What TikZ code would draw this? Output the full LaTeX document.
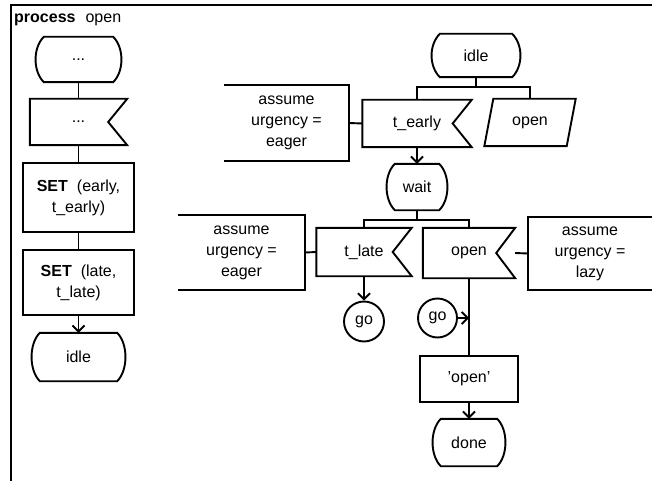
\documentclass[tikz,border=0pt]{standalone}
\usepackage{fontspec}
\setmainfont{Liberation Sans}
\usetikzlibrary{arrows.meta,calc}
\begin{document}
\begin{tikzpicture}[x=1pt,y=-1pt,
  every node/.style={font=\fontsize{16}{21}\selectfont, inner sep=0pt, align=center},
  sz/.style 2 args={minimum width=#1, minimum height=#2},
  ln/.style={line width=1.9pt},
  task/.style={draw, ln},
  gocircle/.style={circle, draw, ln, minimum size=#1},
  arr/.style={ln, -{Straight Barb[length=6pt,width=12pt,line width=1.9pt]}}
]
\useasboundingbox (0,0) rectangle (652,481);
% frame
\draw[line width=2.2pt] (652,5) -- (11,5) -- (11,481);
\node[anchor=base west] (title) at (14,23) {\textbf{process}\hspace{10pt}open};

% left column
\node[sz={69pt}{45pt}] (st1) at (78.5,59.5) {...};
\node[sz={97pt}{46pt}] (in1) at (78.5,122) {...};
\node[task, sz={111pt}{69pt}] (set1) at (78.5,197.5) {\textbf{SET}\hspace{9pt}(early,\\t\_early)};
\node[task, sz={111pt}{65pt}] (set2) at (78.5,282.5) {\textbf{SET}\hspace{9pt}(late,\\t\_late)};
\node[sz={77pt}{48pt}] (idle1) at (78.5,357) {idle};

% right part
\node[sz={72pt}{43pt}] (idle2) at (476,55.5) {idle};
\node[sz={109pt}{47pt}] (te) at (417,123.5) {t\_early};
\node[sz={82pt}{47pt}] (op1) at (530,122.5) {open};
\node[sz={125pt}{76pt}] (c1) at (286.5,123) {assume\\urgency =\\eager};
\node[sz={44pt}{46pt}] (wait) at (417,187) {wait};
\node[sz={95pt}{48pt}] (tl) at (364,252) {t\_late};
\node[sz={92pt}{50pt}] (op2) at (469,253) {open};
\node[sz={127pt}{75pt}] (c2) at (241.5,252.5) {assume\\urgency =\\eager};
\node[sz={124pt}{73pt}] (c3) at (590,253.5) {assume\\urgency =\\lazy};
\node[gocircle=40pt] (go1) at (364,321.5) {go};
\node[gocircle=39pt] (go2) at (437.5,318) {go};
\node[task, sz={98pt}{46pt}] (tk) at (469,379) {'open'};
\node[sz={56pt}{47pt}] (done) at (469,442.5) {done};

% state outlines
\foreach \n in {st1,idle1,idle2,wait,done}
  \draw[ln] (\n.north west) .. controls +(-11,11) and +(-11,-11) .. (\n.south west)
    -- (\n.south east) .. controls +(11,-11) and +(11,11) .. (\n.north east) -- cycle;
% input outlines
\foreach \n in {in1,te,tl,op2}
  \draw[ln] (\n.north west) -- (\n.north east) -- ($(\n.east)+(-19,0)$)
    -- (\n.south east) -- (\n.south west) -- cycle;
% save outline
\draw[ln] ($(op1.north west)+(4.5,0)$) -- ($(op1.north east)+(4.5,0)$)
  -- ($(op1.south east)+(-4.5,0)$) -- ($(op1.south west)+(-4.5,0)$) -- cycle;
% comment outlines
\foreach \n in {c1,c2}
  \draw[ln] (\n.north west) -- (\n.north east) -- (\n.south east) -- (\n.south west);
\draw[ln] (c3.north east) -- (c3.north west) -- (c3.south west) -- (c3.south east);

% connectors
\draw[ln] (st1.south) -- (in1.north);
\draw[ln] (in1.south) -- (set1.north);
\draw[ln] (set1.south) -- (set2.north);
\draw[arr] (set2.south) -- (idle1.north);
\draw[ln] (idle2.south) -- ++(0,10) coordinate (b1);
\draw[ln] (te.north) |- (b1) -| (op1.north);
\draw[arr] (te.south) -- (wait.north);
\draw[ln] (wait.south) -- ++(0,10) coordinate (b2);
\draw[ln] (tl.north) |- (b2) -| (op2.north);
\draw[arr] (tl.south) -- (go1.north);
\draw[ln] (op2.south) -- (tk.north);
\coordinate (j) at (op2.south |- go2.east);
\draw[arr] (go2.east) -- (j);
\draw[arr] (tk.south) -- (done.north);
\draw[ln] (c1.east) -- (te.west);
\draw[ln] (c2.east) -- (tl.west);
\draw[ln] (op2.east) -- (c3.west);
\end{tikzpicture}
\end{document}
